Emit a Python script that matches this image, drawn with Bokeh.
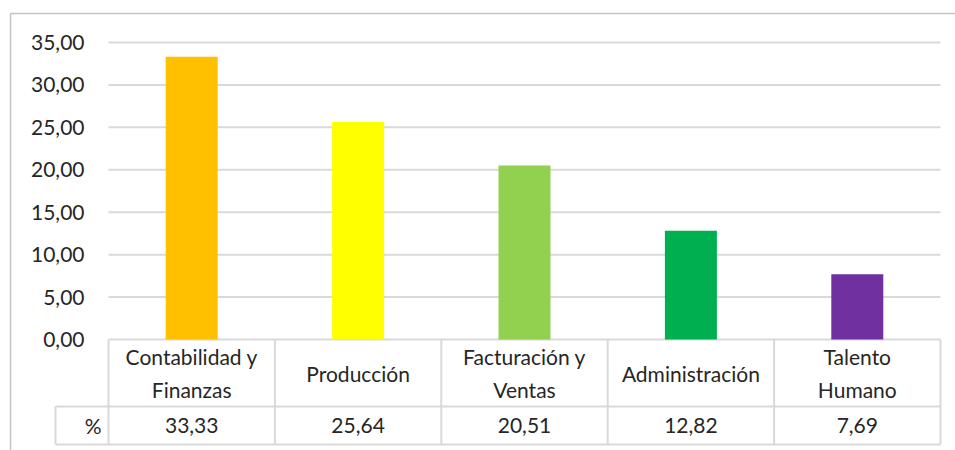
from bokeh.plotting import figure
from bokeh.models import Range1d
from bokeh.core.properties import value
from bokeh.embed import file_html
from bokeh.resources import INLINE

# ---- data ----
categories = ["Contabilidad y\nFinanzas", "Producción", "Facturación y\nVentas",
              "Administración", "Talento\nHumano"]
values = [33.33, 25.64, 20.51, 12.82, 7.69]
colors = ["#FFC000", "#FFFF00", "#92D050", "#00B050", "#7030A0"]
y_ticks = [0, 5, 10, 15, 20, 25, 30, 35]
row_label = "%"


def fmt(v):
    return f"{v:.2f}".replace(".", ",")


n = len(categories)
xs = [i + 0.5 for i in range(n)]

# ---- layout (data-space geometry of the Excel-like chart + table) ----
W, H = 955, 450
PX_X = 166.4            # pixels per category
X0 = 108                # pixel of first category boundary
PX_Y = 297 / 35         # pixels per unit
Y0 = 339                # pixel of value 0
HDR = -(406 - Y0) / PX_Y
BOT = -(444 - Y0) / PX_Y
LEFT_CELL = -(X0 - 55) / PX_X
BORDER_X = -(X0 - 10) / PX_X
BORDER_Y = (Y0 - 13) / PX_Y
FONT = value("Lato")
FS = "21px"
TXT = "#262626"
LINE = "#d9d9d9"

p = figure(width=W, height=H, output_backend="svg", toolbar_location=None,
           x_range=Range1d(-X0 / PX_X, (W - X0) / PX_X),
           y_range=Range1d(-(H - Y0) / PX_Y, Y0 / PX_Y),
           x_axis_type=None, y_axis_type=None, min_border=0)
p.outline_line_color = None
p.grid.visible = False
p.background_fill_color = "white"
p.border_fill_color = "white"

# outer chart border (top and left visible)
p.segment(x0=[BORDER_X, BORDER_X], y0=[BORDER_Y, BORDER_Y],
          x1=[6, BORDER_X], y1=[BORDER_Y, -20],
          line_color="#c4c4c4", line_width=1.5)

# gridlines
p.segment(x0=[0] * len(y_ticks), x1=[n] * len(y_ticks), y0=y_ticks, y1=y_ticks,
          line_color=LINE, line_width=2)

# bars
p.vbar(x=xs, top=values, bottom=0, width=0.3125, fill_color=colors, line_color=None)

# table lines
p.segment(x0=[LEFT_CELL, LEFT_CELL], x1=[n, n], y0=[HDR, BOT], y1=[HDR, BOT],
          line_color=LINE, line_width=2)
vx = list(range(n + 1))
p.segment(x0=vx, x1=vx, y0=[0] * len(vx), y1=[BOT] * len(vx),
          line_color=LINE, line_width=2)
p.segment(x0=[LEFT_CELL], x1=[LEFT_CELL], y0=[HDR], y1=[BOT],
          line_color=LINE, line_width=2)

# y tick labels
p.text(x=[-(X0 - 84) / PX_X] * len(y_ticks), y=y_ticks, text=[fmt(t) for t in y_ticks],
       text_align="right", text_baseline="middle", text_font=FONT,
       text_font_size=FS, text_color=TXT)

# header labels
p.text(x=xs, y=[HDR / 2] * n, text=categories, text_align="center",
       text_baseline="middle", text_font=FONT, text_font_size=FS,
       text_color=TXT, text_line_height=1.3)

# value row
p.text(x=xs, y=[(HDR + BOT) / 2] * n, text=[fmt(v) for v in values],
       text_align="center", text_baseline="middle", text_font=FONT,
       text_font_size=FS, text_color=TXT)
p.text(x=[-(X0 - 101) / PX_X], y=[(HDR + BOT) / 2], text=[row_label], text_align="right",
       text_baseline="middle", text_font=FONT, text_font_size=FS,
       text_color=TXT)

open("out.html", "w").write(file_html(p, INLINE))
